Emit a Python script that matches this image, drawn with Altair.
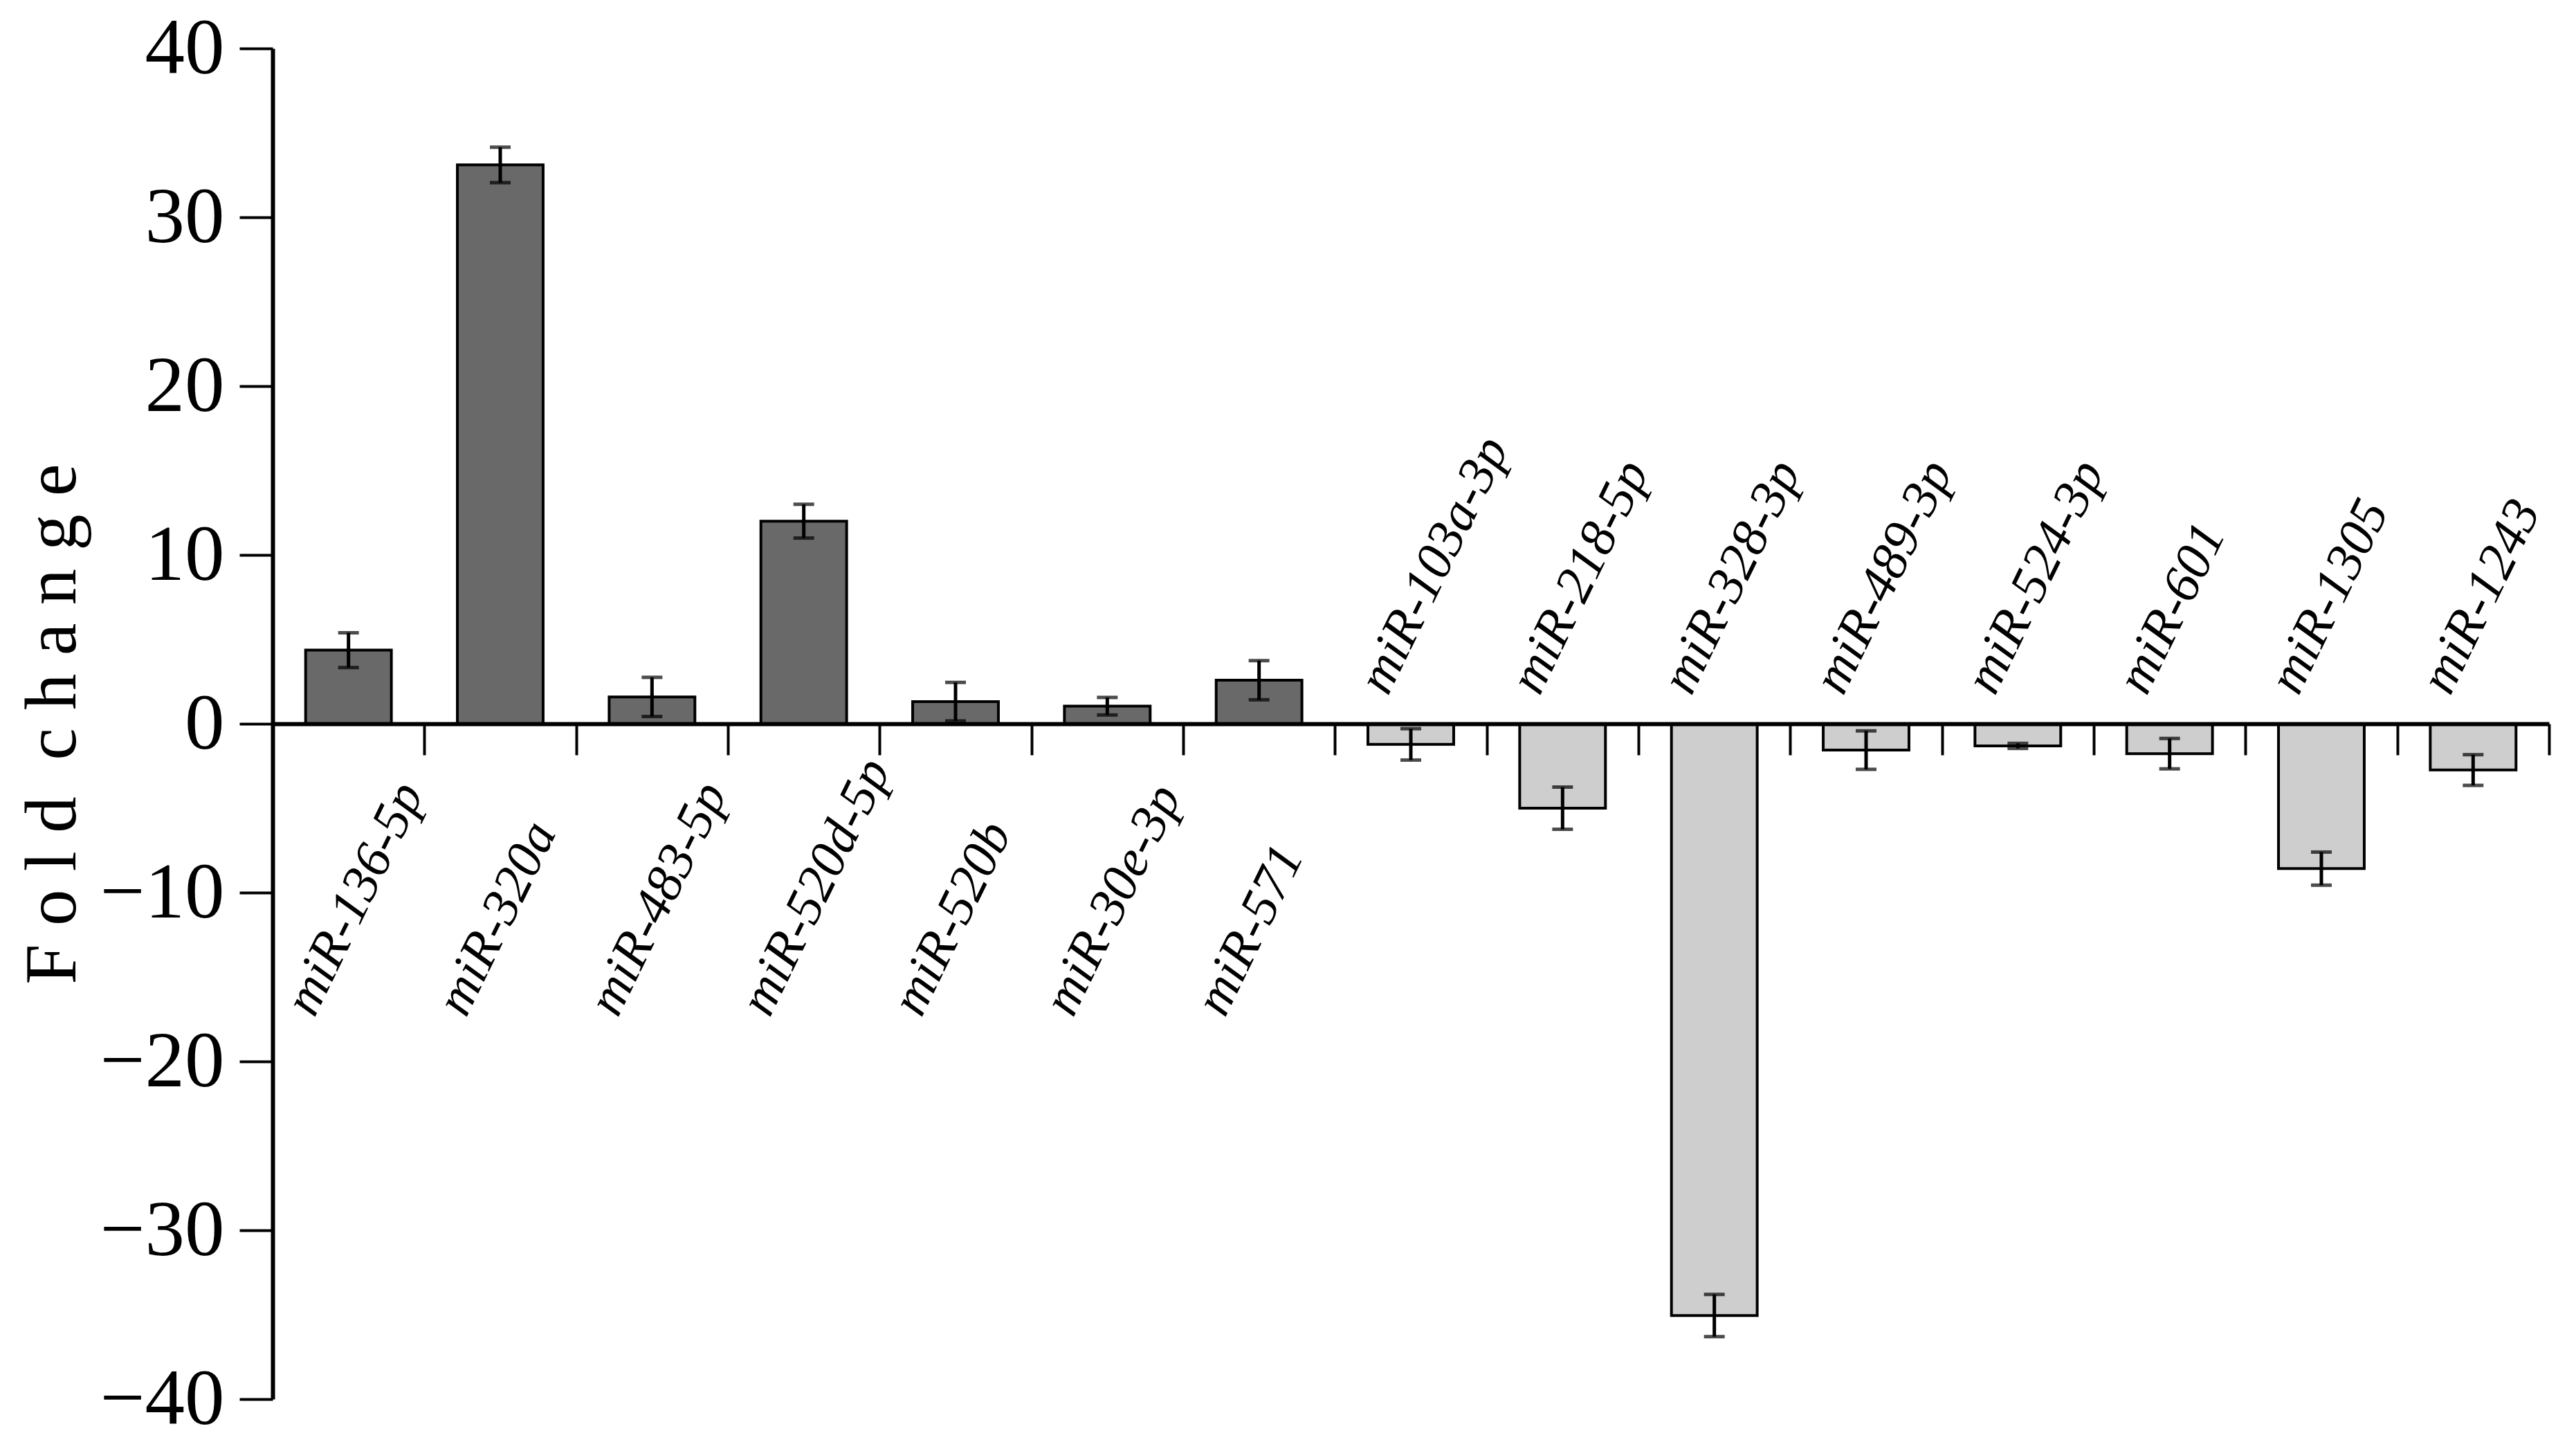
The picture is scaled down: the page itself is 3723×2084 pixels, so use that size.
import altair as alt
import pandas as pd

up_names = ["miR-136-5p", "miR-320a", "miR-483-5p", "miR-520d-5p", "miR-520b", "miR-30e-3p", "miR-571"]
up_values = [4.36, 33.1, 1.59, 12.0, 1.31, 1.04, 2.58]
up_errors = [1.03, 1.05, 1.16, 1.0, 1.14, 0.52, 1.16]

down_names = ["miR-103a-3p", "miR-218-5p", "miR-328-3p", "miR-489-3p", "miR-524-3p", "miR-601", "miR-1305", "miR-1243"]
down_values = [-1.22, -5.0, -35.05, -1.56, -1.31, -1.77, -8.58, -2.74]
down_errors = [0.93, 1.25, 1.25, 1.14, 0.15, 0.9, 0.98, 0.91]

y_ticks = [-40, -30, -20, -10, 0, 10, 20, 30, 40]

names = up_names + down_names
df = pd.DataFrame({
    "name": names,
    "value": up_values + down_values,
    "err": up_errors + down_errors,
    "group": ["up"] * len(up_names) + ["down"] * len(down_names),
})
df["lo"] = df["value"] - df["err"]
df["hi"] = df["value"] + df["err"]

FONT = "Liberation Serif"
W, H = 3290, 1952

x_axis = alt.Axis(title=None, labels=False, tickBand="extent", offset=-H / 2,
                  domainWidth=6, domainColor="black", tickColor="black",
                  tickWidth=4, tickSize=45, zindex=1, grid=False)
x = alt.X("name:N", sort=names, scale=alt.Scale(paddingInner=0, paddingOuter=0), axis=x_axis)

y_scale = alt.Scale(domain=[-40, 40], nice=False, zero=False)
y_axis = alt.Axis(values=y_ticks, title="F o l d \u00a0c h a n g e", grid=False,
                  domainWidth=6, domainColor="black", tickColor="black", tickWidth=4,
                  tickSize=48, labelFont=FONT, labelFontSize=115, labelColor="black",
                  labelPadding=22, titleFont=FONT, titleFontSize=105, titleFontWeight="normal",
                  titleColor="black", titlePadding=64, zindex=1)


def yenc(field):
    return alt.Y(f"{field}:Q", scale=y_scale, axis=y_axis)


base = alt.Chart(df)

bars = base.mark_bar(width=alt.RelativeBandSize(0.565), stroke="black", strokeWidth=4).encode(
    x=x,
    y=yenc("value"),
    y2=alt.datum(0),
    color=alt.Color("group:N", scale=alt.Scale(domain=["up", "down"], range=["#696969", "#cecece"]), legend=None),
)

rules = base.mark_rule(color="black", strokeWidth=5).encode(x=x, y=yenc("lo"), y2="hi:Q")
cap_hi = base.mark_tick(orient="horizontal", size=30, thickness=5, color="black").encode(x=x, y=yenc("hi"))
cap_lo = base.mark_tick(orient="horizontal", size=30, thickness=5, color="black").encode(x=x, y=yenc("lo"))

text_up = base.transform_filter("datum.value > 0").transform_calculate(ly="-13.3").mark_text(
    angle=296, align="left", baseline="alphabetic", font=FONT, fontStyle="italic",
    fontSize=76, dx=-113, color="black").encode(x=x, y=yenc("ly"), text="name:N")

text_down = base.transform_filter("datum.value < 0").transform_calculate(ly="4.4").mark_text(
    angle=296, align="left", baseline="alphabetic", font=FONT, fontStyle="italic",
    fontSize=76, dx=-76, color="black").encode(x=x, y=yenc("ly"), text="name:N")

chart = alt.layer(bars, rules, cap_hi, cap_lo, text_up, text_down).properties(
    width=W, height=H,
    autosize=alt.AutoSizeParams(type="none"),
    padding={"left": 386, "top": 62, "right": 20, "bottom": 60},
).configure_view(stroke=None)

chart.save("out.html", embed_options={"renderer": "svg", "actions": False})
